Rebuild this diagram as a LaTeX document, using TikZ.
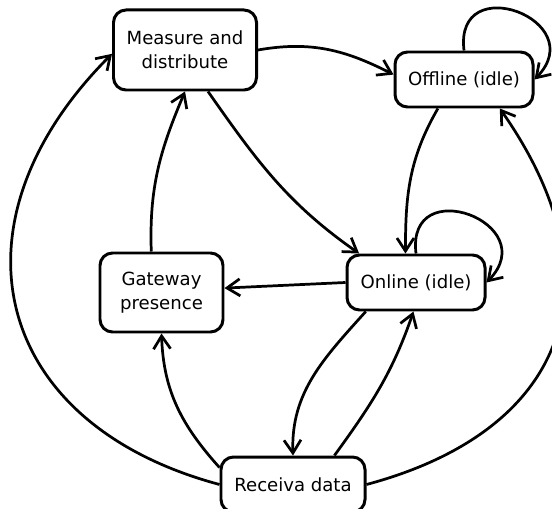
\documentclass[tikz,border=0pt]{standalone}
\usepackage{fontspec}
\setmainfont{DejaVu Sans}
\usetikzlibrary{arrows.meta}

\begin{document}
\begin{tikzpicture}[
  stbox/.style={draw, line width=1.7pt, rounded corners=0.25cm, fill=white,
    align=center, font=\fontsize{10.3}{13.5}\selectfont, inner sep=2pt},
  link/.style={line width=1.55pt, -{Straight Barb[length=2.6mm,width=3.4mm]}},
  loopy/.style={out=97, in=46, distance=1.65cm}]
\useasboundingbox (0,0) rectangle (11.04,10.16);

% states
\node[stbox, minimum width=2.86cm, minimum height=1.6cm] (meas) at (3.70,9.16) {Measure and\\distribute};
\node[stbox, minimum width=2.76cm, minimum height=1.1cm] (offl) at (9.28,8.57) {Offline (idle)};
\node[stbox, minimum width=2.76cm, minimum height=1.1cm] (onl) at (8.32,4.51) {Online (idle)};
\node[stbox, minimum width=2.46cm, minimum height=1.58cm] (gate) at (3.23,4.31) {Gateway\\presence};
\node[stbox, minimum width=2.88cm, minimum height=1.1cm] (recv) at (5.86,0.47) {Receiva data};

% transitions
\draw[link] (meas.east) to[out=10, in=153] (offl.176);
\draw[link] (offl.north) to[loopy] (offl.east);
\draw[link] (offl.228) to[out=240, in=90] (onl.110);
\draw[link] (meas.-61) to[out=-55, in=145] (onl.153);
\draw[link] (onl.north) to[loopy] (onl.east);
\draw[link] (onl.west) -- (gate.4);
\draw[link] (gate.104) to[out=92, in=247] (meas.south);
\draw[link] (onl.210) to[out=228, in=92] (recv.north);
\draw[link] (recv.35) to[out=54, in=251] (onl.265);
\draw[link] (recv.167) to[out=132, in=272] (gate.south);

% long way round
\draw[link] (recv.west) to[out=165, in=225, looseness=1.37] (meas.183);
\draw[link] (recv.east) to[out=15, in=-55, looseness=1.35] (offl.-39);
\end{tikzpicture}
\end{document}
